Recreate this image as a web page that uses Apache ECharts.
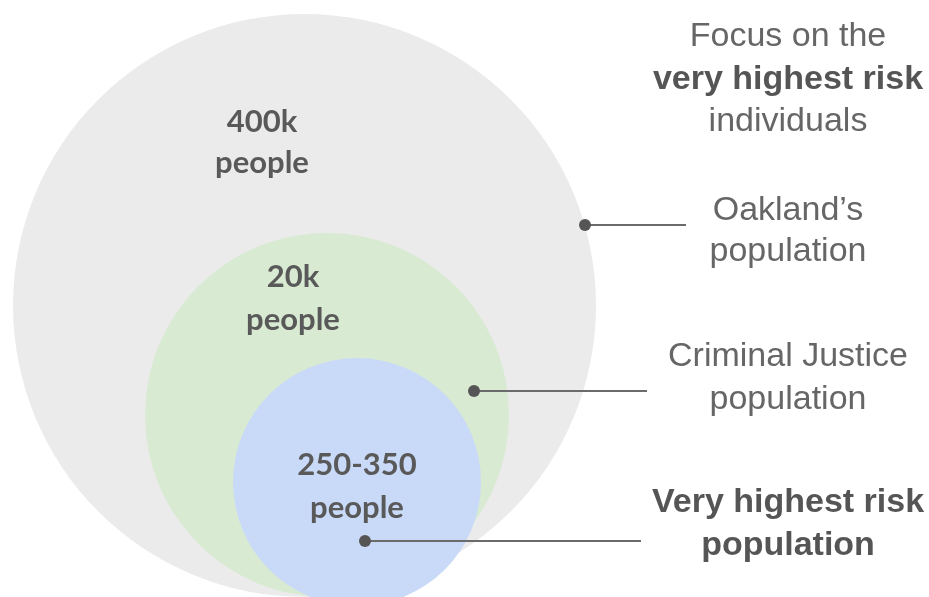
<!DOCTYPE html>
<html><head><meta charset="utf-8">
<script src="https://cdn.jsdelivr.net/npm/echarts/dist/echarts.min.js"></script>
<style>html,body{margin:0;padding:0;background:#fff}#chart{width:929px;height:597px}</style>
</head><body><div id="chart"></div>
<script>
// Nested population circles (diagram units = canvas units, y down)
const circleNames = ["Oakland's population", "Criminal Justice population", "Very highest risk population"];
const circleCx = [304.5, 327, 357];
const circleCy = [305.5, 415, 482];
const circleR = [291.5, 182, 124];
const circleColors = ['#ebebeb', '#d9ead3', '#c9daf8'];

// Count labels inside circles
const countLines = [["400k", "people"], ["20k", "people"], ["250-350", "people"]];
const countX = [262, 293, 357];
const countY = [[122, 163], [277, 320], [465, 508]];

// Pointer dots and leader lines
const pointerDotX = [585, 474, 365];
const pointerDotY = [225, 391, 541];
const pointerEndX = [686, 647, 641];

// Notes on the right
const noteLines = ["Focus on the", "very highest risk", "individuals", "Oakland\u2019s", "population", "Criminal Justice", "population", "Very highest risk", "population"];
const noteBold = [false, true, false, false, false, false, false, true, true];
const noteY = [37, 80, 122, 211, 252, 357, 400, 503, 546];
const noteX = 788;

const chart = echarts.init(document.getElementById('chart'), null, {renderer: 'canvas'});

const circleData = circleCx.map((cx, i) => ({name: circleNames[i], value: [cx, circleCy[i], circleR[i]]}));
const countData = [];
countLines.forEach((lines, i) => lines.forEach((t, j) => countData.push({value: [countX[i], countY[i][j]], text: t})));
const pointerData = pointerDotX.map((x, i) => [x, pointerDotY[i], pointerEndX[i]]);
const noteData = noteLines.map((t, i) => ({value: [noteX, noteY[i]], text: t, bold: noteBold[i]}));

function textEl(p, text, family, size, weight, fill) {
  return {
    type: 'text', x: p[0], y: p[1],
    style: {text: text, fontFamily: family, fontSize: size, fontWeight: weight, fill: fill,
      align: 'center', verticalAlign: 'middle', textAlign: 'center', textVerticalAlign: 'middle'}
  };
}

chart.setOption({
  animation: false,
  backgroundColor: '#ffffff',
  grid: {left: 0, right: 0, top: 0, bottom: 0},
  xAxis: {type: 'value', min: 0, max: 929, show: false},
  yAxis: {type: 'value', min: 0, max: 597, inverse: true, show: false},
  series: [
    {
      type: 'custom', silent: true, clip: true,
      data: circleData,
      renderItem: function (params, api) {
        const c = api.coord([api.value(0), api.value(1)]);
        const r = Math.abs(api.size([api.value(2), 0])[0]);
        return {type: 'circle', shape: {cx: c[0], cy: c[1], r: r}, style: {fill: circleColors[params.dataIndex]}};
      }
    },
    {
      type: 'custom', silent: true,
      data: countData,
      renderItem: function (params, api) {
        const c = api.coord([api.value(0), api.value(1)]);
        return textEl(c, countData[params.dataIndex].text, 'Lato', 31, 'bold', '#595959');
      }
    },
    {
      type: 'custom', silent: true,
      data: pointerData,
      renderItem: function (params, api) {
        const a = api.coord([api.value(0), api.value(1)]);
        const b = api.coord([api.value(2), api.value(1)]);
        return {
          type: 'group',
          children: [
            {type: 'line', shape: {x1: a[0], y1: a[1], x2: b[0], y2: b[1]}, style: {stroke: '#6b6b6b', lineWidth: 2}},
            {type: 'circle', shape: {cx: a[0], cy: a[1], r: 6}, style: {fill: '#555555'}}
          ]
        };
      }
    },
    {
      type: 'custom', silent: true,
      data: noteData,
      renderItem: function (params, api) {
        const c = api.coord([api.value(0), api.value(1)]);
        const d = noteData[params.dataIndex];
        return textEl(c, d.text, 'Liberation Sans', 34, d.bold ? 'bold' : 'normal', d.bold ? '#555555' : '#666666');
      }
    }
  ]
});
</script>
</body></html>
